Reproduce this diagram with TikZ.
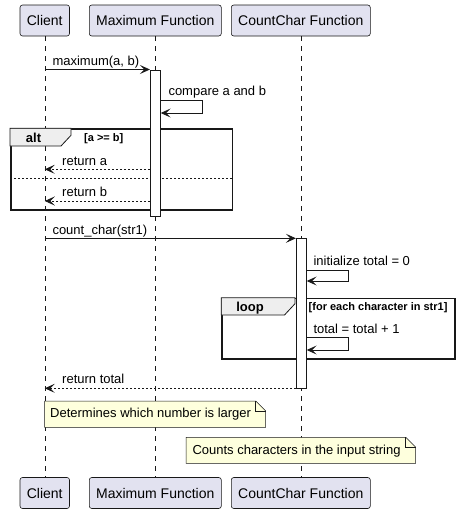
\documentclass[tikz,border=0pt]{standalone}
\usepackage{fontspec}
\setmainfont{Liberation Sans}
\usetikzlibrary{arrows.meta}
\definecolor{partfill}{HTML}{E2E2F0}
\definecolor{ink}{HTML}{181818}
\definecolor{notefill}{HTML}{FEFFDD}
\definecolor{tabfill}{HTML}{EEEEEE}
\tikzset{
  part/.style={draw=ink, fill=partfill, line width=0.6pt, rounded corners=2.5pt,
    minimum height=31pt, inner sep=0pt, font=\fontsize{14}{16}\selectfont},
  lifeline/.style={draw=ink, line width=0.5pt, dash pattern=on 5pt off 5pt},
  actbar/.style={draw=ink, fill=white, line width=0.8pt, minimum width=10pt, inner sep=0pt},
  msg/.style={draw=ink, line width=0.8pt, -{Stealth[length=10pt,width=9pt,inset=4.5pt]}},
  retmsg/.style={msg, dash pattern=on 2pt off 2pt},
  lbl/.style={anchor=base west, inner sep=0pt, font=\fontsize{13}{15}\selectfont},
  guard/.style={anchor=base west, inner sep=0pt, font=\fontsize{11}{13}\selectfont\bfseries},
  framebox/.style={draw=ink, line width=1.5pt, inner sep=0pt},
  tabshape/.style={draw=ink, fill=tabfill, line width=0.8pt},
  tabtext/.style={anchor=base, inner sep=0pt, font=\fontsize{13}{15}\selectfont\bfseries},
  notebox/.style={draw=ink, fill=notefill, line width=0.5pt},
  notetext/.style={anchor=west, inner sep=0pt, font=\fontsize{13}{15}\selectfont},
}
\begin{document}
\begin{tikzpicture}[x=1pt, y=-1pt]
\useasboundingbox (0,0) rectangle (457,514);
% participants
\node[part, minimum width=49.5pt] (ct) at (44.75,20.5) {Client};
\node[part, minimum width=132pt] (mt) at (155.3,20.5) {Maximum Function};
\node[part, minimum width=139pt] (cct) at (300.8,20.5) {CountChar Function};
\node[part, minimum width=49.5pt] (cb) at (44.75,493) {Client};
\node[part, minimum width=132pt] (mb) at (155.3,493) {Maximum Function};
\node[part, minimum width=139pt] (ccb) at (300.8,493) {CountChar Function};
% lifelines
\draw[lifeline] (ct.south) -- (cb.north);
\draw[lifeline] (mt.south) -- (mb.north);
\draw[lifeline] (cct.south) -- (ccb.north);
% alt frame
\node[framebox, anchor=north west, minimum width=221.7pt, minimum height=80.7pt] (alt) at (10,128.3) {};
\draw[tabshape] (alt.north west) -- ++(61,0) -- ++(0,7) -- ++(-10,10.7) -- ++(-51,0) -- cycle;
\node[tabtext] (altlbl) at (33.5,142.5) {alt};
\node[guard] (altg) at (84,141.5) {[a >= b]};
\coordinate (sepl) at (10,178.3);
\coordinate (sepr) at (231.7,178.3);
\draw[draw=ink, line width=0.8pt, dash pattern=on 2pt off 2pt] (sepl) -- (sepr);
% loop frame
\node[framebox, anchor=north west, minimum width=232.7pt, minimum height=60.6pt] (loop) at (221.3,297.7) {};
\draw[tabshape] (loop.north west) -- ++(73.7,0) -- ++(0,6) -- ++(-10.5,11.3) -- ++(-63.2,0) -- cycle;
% activation bars
\node[actbar, minimum height=146pt, anchor=north] (a1) at (155.3,69.5) {};
\node[actbar, minimum height=149.4pt, anchor=north] (a2) at (301.3,238.3) {};
\node[tabtext] (looplbl) at (250,311) {loop};
\node[guard] (loopg) at (308.5,310.5) {[for each character in str1]};
% message 1
\draw[msg] (ct.south |- a1.north) -- (a1.north west);
\node[lbl] (m1) at (52.3,65) {maximum(a, b)};
% self message compare
\coordinate (s1a) at (a1.east |- 0,100);
\coordinate (s1b) at (202,100);
\coordinate (s1c) at (202,113);
\coordinate (s1d) at (a1.east |- 0,113);
\draw[msg] (s1a) -- (s1b) -- (s1c) -- (s1d);
\node[lbl] (m2) at (168.3,95) {compare a and b};
% returns in alt
\coordinate (ra) at (a1.west |- 0,169.3);
\draw[retmsg] (ra) -- (ct.south |- ra);
\node[lbl] (m3) at (62,165) {return a};
\coordinate (rb) at (a1.west |- 0,201);
\draw[retmsg] (rb) -- (ct.south |- rb);
\node[lbl] (m4) at (62,196.5) {return b};
% count_char
\draw[msg] (ct.south |- a2.north) -- (a2.north west);
\node[lbl] (m5) at (52.3,234) {count\_char(str1)};
% initialize
\coordinate (s2a) at (a2.east |- 0,270);
\coordinate (s2b) at (348.3,270);
\coordinate (s2c) at (348.3,281);
\coordinate (s2d) at (a2.east |- 0,281);
\draw[msg] (s2a) -- (s2b) -- (s2c) -- (s2d);
\node[lbl] (m6) at (313.3,265) {initialize total = 0};
% total = total + 1
\coordinate (s3a) at (a2.east |- 0,337.7);
\coordinate (s3b) at (348.3,337.7);
\coordinate (s3c) at (348.3,350);
\coordinate (s3d) at (a2.east |- 0,350);
\draw[msg] (s3a) -- (s3b) -- (s3c) -- (s3d);
\node[lbl] (m7) at (313.3,333) {total = total + 1};
% return total
\coordinate (rt) at (a2.west |- 0,388.3);
\draw[retmsg] (rt) -- (ct.south |- rt);
\node[lbl] (m8) at (62,383.5) {return total};
% notes
\draw[notebox] (44.5,401) -- (255.7,401) -- (265.7,411) -- (265.7,427.3) -- (44.5,427.3) -- cycle;
\draw[draw=ink, line width=0.5pt] (255.7,401) -- (255.7,411) -- (265.7,411);
\node[notetext] (n1) at (50,414.5) {Determines which number is larger};
\draw[notebox] (186,437.3) -- (405.7,437.3) -- (415.7,447.3) -- (415.7,463.3) -- (186,463.3) -- cycle;
\draw[draw=ink, line width=0.5pt] (405.7,437.3) -- (405.7,447.3) -- (415.7,447.3);
\node[notetext] (n2) at (192.3,451.5) {Counts characters in the input string};
\end{tikzpicture}
\end{document}
